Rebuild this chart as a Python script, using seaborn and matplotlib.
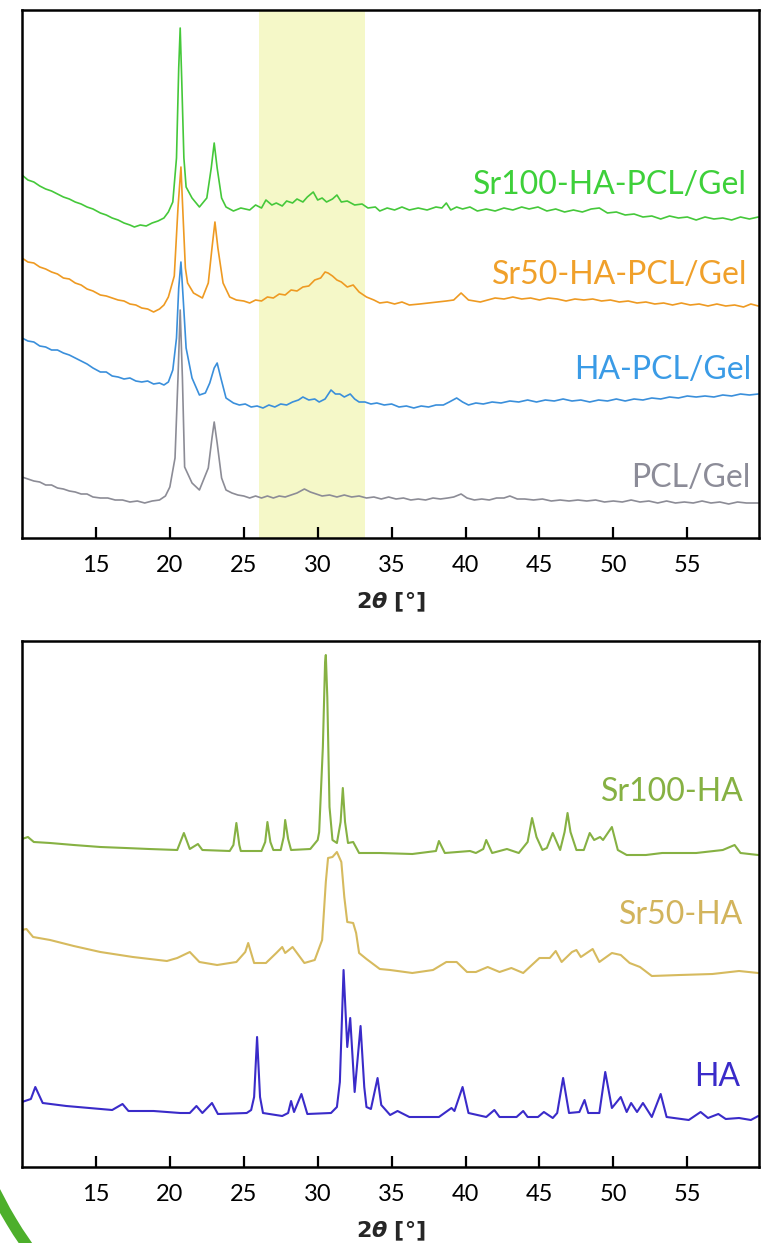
import numpy as np
import pandas as pd
import matplotlib
matplotlib.use("Agg")
import matplotlib.pyplot as plt
import seaborn as sns
from matplotlib.patches import Arc

# ---------------- data (2theta in degrees, intensity in a.u., offset traces) ----------------
top_names = ["Sr100-HA-PCL/Gel", "Sr50-HA-PCL/Gel", "HA-PCL/Gel", "PCL/Gel"]
top_colors = ["#45C83A", "#EE9A22", "#3A8FDB", "#8C8C96"]
top_label_colors = ["#3ED03A", "#F0A02A", "#3A9BE6", "#8C8C98"]

sr100_pcl_x = [10.0, 10.4, 10.8, 11.2, 11.6, 12.0, 12.4, 12.8, 13.2, 13.6, 14.0, 14.4, 14.8, 15.3, 15.7,
               16.1, 16.5, 16.9, 17.3, 17.6, 18.0, 18.4, 18.8, 19.2, 19.6, 19.9, 20.2,
               20.45, 20.6, 20.7, 20.8, 20.95, 21.1, 21.5, 22.0, 22.5, 22.8, 23.0, 23.2, 23.5,
               23.8, 24.3, 24.8, 25.4, 25.8, 26.2, 26.5, 26.9, 27.2, 27.6, 27.9, 28.3, 28.6, 29.0,
               29.3, 29.7, 30.0, 30.3, 30.6, 31.0, 31.3, 31.6, 32.0, 32.5, 33.0, 33.4, 33.9, 34.2,
               34.7, 35.2, 35.7, 36.2, 36.8, 37.4, 38.0, 38.4, 38.7, 39.0, 39.4, 39.8, 40.3, 40.8,
               41.4, 42.0, 42.6, 43.2, 43.8, 44.3, 44.9, 45.5, 46.1, 46.7, 47.3, 47.9, 48.5, 49.05,
               49.6, 50.2, 50.8, 51.4, 52.0, 52.6, 53.2, 53.8, 54.4, 55.0, 55.6, 56.2, 56.8, 57.4,
               58.0, 58.6, 59.2, 59.8]
sr100_pcl_y = [363, 358, 356, 352, 349, 347, 344, 341, 339, 336, 334, 331, 329, 325, 323,
               320, 318, 315, 313, 311, 313, 312, 315, 317, 320, 326, 336,
               380, 470, 510, 460, 380, 351, 340, 331, 340, 370, 395, 370, 340,
               331, 327, 330, 328, 333, 330, 338, 333, 335, 332, 337, 335, 339, 336,
               341, 346, 338, 340, 336, 339, 343, 336, 337, 333, 334, 330, 331, 327,
               330, 328, 331, 328, 330, 328, 331, 330, 335, 328, 331, 329, 331, 327,
               329, 327, 330, 328, 331, 329, 331, 327, 329, 326, 328, 326, 329, 330,
               325, 326, 323, 324, 321, 322, 319, 322, 320, 321, 318, 321, 319, 320,
               318, 321, 319, 321]

sr50_pcl_x = [10.0, 10.4, 10.8, 11.2, 11.6, 12.0, 12.4, 12.8, 13.2, 13.6, 14.0, 14.4, 14.8, 15.3, 15.7,
              16.1, 16.5, 16.9, 17.3, 17.7, 18.1, 18.5, 18.9, 19.3, 19.6, 19.9, 20.3, 20.55,
              20.75, 20.9, 21.05, 21.2, 21.6, 22.2, 22.6, 22.85, 23.05, 23.25, 23.6, 24.05, 24.5,
              25.0, 25.4, 25.8, 26.2, 26.6, 27.0, 27.4, 27.8, 28.2, 28.6, 29.0, 29.4, 29.8, 30.2,
              30.5, 30.7, 31.0, 31.3, 31.6, 32.0, 32.4, 32.8, 33.3, 33.8, 34.2, 34.7, 35.2, 35.7,
              36.2, 36.9, 37.5, 38.1, 38.7, 39.2, 39.7, 40.2, 40.6, 41.0, 41.5, 42.0, 42.6, 43.2,
              43.8, 44.4, 45.0, 45.6, 46.2, 46.8, 47.4, 48.0, 48.6, 49.2, 49.8, 50.4, 51.0, 51.6,
              52.2, 52.8, 53.4, 54.0, 54.6, 55.2, 55.8, 56.4, 57.0, 57.6, 58.2, 58.8, 59.3, 59.8]
sr50_pcl_y = [280, 276, 275, 271, 269, 266, 264, 260, 259, 255, 253, 249, 247, 243, 242,
              240, 238, 237, 234, 233, 230, 229, 226, 229, 233, 241, 262, 330,
              371, 320, 270, 255, 245, 240, 255, 290, 316, 290, 255, 241, 238,
              237, 235, 238, 237, 241, 240, 244, 243, 248, 247, 251, 252, 258, 260,
              266, 265, 262, 258, 256, 251, 253, 246, 241, 238, 235, 236, 234, 236,
              233, 234, 235, 236, 237, 238, 245, 238, 237, 236, 238, 240, 239, 241,
              239, 240, 238, 240, 239, 237, 239, 238, 239, 237, 238, 236, 237, 235,
              236, 234, 235, 233, 235, 233, 234, 232, 234, 232, 233, 231, 234, 232]

ha_pcl_x = [10.0, 10.4, 10.8, 11.2, 11.6, 12.0, 12.4, 12.8, 13.2, 13.6, 14.0, 14.4, 14.8, 15.3, 15.7,
            16.1, 16.5, 16.9, 17.3, 17.7, 18.1, 18.5, 18.9, 19.3, 19.6, 19.9, 20.2, 20.45, 20.6,
            20.75, 20.9, 21.1, 21.5, 22.0, 22.4, 22.7, 23.0, 23.2, 23.45, 23.8, 24.3, 24.7, 25.1,
            25.5, 25.9, 26.3, 26.7, 27.1, 27.5, 27.9, 28.3, 28.7, 29.0, 29.4, 29.8, 30.1, 30.5,
            30.9, 31.2, 31.5, 31.8, 32.2, 32.5, 32.8, 33.2, 33.6, 34.0, 34.5, 35.0, 35.5, 36.0,
            36.5, 37.0, 37.5, 38.0, 38.5, 38.9, 39.4, 39.8, 40.2, 40.7, 41.2, 41.8, 42.4, 43.0,
            43.6, 44.2, 44.8, 45.4, 46.0, 46.6, 47.2, 47.8, 48.4, 49.0, 49.6, 50.2, 50.8, 51.4,
            52.0, 52.6, 53.2, 53.8, 54.4, 55.0, 55.6, 56.2, 56.8, 57.4, 58.0, 58.6, 59.2, 59.8]
ha_pcl_y = [200, 197, 196, 192, 191, 188, 188, 185, 183, 180, 177, 174, 170, 166, 166,
            162, 161, 159, 160, 157, 156, 157, 154, 155, 153, 156, 168, 200, 250,
            276, 240, 190, 160, 143, 145, 155, 170, 175, 160, 140, 135, 133, 134,
            131, 132, 130, 133, 131, 134, 133, 136, 138, 141, 138, 139, 136, 139,
            148, 144, 144, 141, 144, 139, 136, 136, 134, 135, 133, 134, 131, 132,
            130, 132, 131, 133, 133, 136, 140, 136, 133, 135, 134, 136, 135, 137,
            136, 138, 136, 138, 137, 139, 137, 138, 136, 138, 137, 139, 137, 139,
            138, 140, 139, 141, 140, 142, 141, 142, 141, 143, 142, 144, 143, 144]

pcl_x = [10.0, 10.4, 10.8, 11.2, 11.6, 12.0, 12.4, 12.8, 13.2, 13.6, 14.0, 14.4, 14.8, 15.3, 15.8,
         16.3, 16.8, 17.3, 17.8, 18.3, 18.8, 19.3, 19.7, 20.0, 20.35, 20.55, 20.7, 20.85,
         21.0, 21.5, 22.0, 22.6, 22.85, 23.0, 23.2, 23.5, 23.8, 24.2, 24.6, 25.0, 25.4, 25.8,
         26.2, 26.6, 27.0, 27.4, 27.8, 28.2, 28.6, 29.1, 29.5, 29.9, 30.3, 30.8, 31.3, 31.8,
         32.3, 32.8, 33.3, 33.8, 34.3, 34.8, 35.3, 35.8, 36.3, 36.8, 37.3, 37.8, 38.3, 38.8,
         39.2, 39.7, 40.1, 40.6, 41.1, 41.6, 42.1, 42.6, 43.0, 43.5, 44.0, 44.6, 45.2, 45.8,
         46.4, 47.0, 47.6, 48.2, 48.8, 49.4, 50.0, 50.6, 51.2, 51.8, 52.4, 53.0, 53.6, 54.2,
         54.8, 55.4, 56.0, 56.6, 57.2, 57.8, 58.4, 59.0, 59.8]
pcl_y = [61, 59, 57, 56, 53, 53, 50, 49, 47, 46, 44, 44, 41, 40, 40,
         38, 38, 36, 37, 35, 37, 38, 42, 51, 80, 160, 228, 160,
         71, 55, 48, 70, 100, 116, 95, 60, 48, 45, 43, 42, 40, 42,
         40, 42, 40, 42, 41, 43, 45, 49, 46, 44, 42, 43, 41, 43,
         41, 42, 40, 41, 39, 41, 39, 40, 38, 39, 38, 40, 39, 40,
         41, 44, 40, 38, 39, 38, 40, 40, 42, 39, 39, 38, 39, 37,
         38, 37, 38, 37, 38, 36, 37, 36, 38, 36, 37, 35, 37, 35,
         36, 35, 37, 35, 36, 34, 36, 35, 35]

bot_names = ["Sr100-HA", "Sr50-HA", "HA"]
bot_colors = ["#86B143", "#D6BA5E", "#3A2BC9"]
bot_label_colors = ["#86B143", "#D2B45C", "#3A2BC9"]

sr100_ha_x = [10.0, 10.4, 10.8, 11.9, 13.5, 15.3, 17.0, 18.6, 20.5, 20.95, 21.35, 21.9, 22.2, 24.05, 24.3,
              24.5, 24.7, 24.8, 26.2, 26.45, 26.6, 26.8, 27.0, 27.5, 27.7, 27.8, 28.0, 28.2, 29.5, 30.0,
              30.1, 30.35, 30.5, 30.55, 30.65, 30.8, 31.0, 31.3, 31.55, 31.7, 31.85, 32.05, 32.4,
              32.8, 34.2, 36.4, 38.0, 38.2, 38.6, 40.3, 40.7, 41.2, 41.4, 41.8, 42.8, 43.6, 44.2, 44.5,
              44.8, 45.2, 45.5, 45.9, 46.4, 46.7, 46.9, 47.1, 47.5, 48.0, 48.4, 48.7, 49.1, 49.3,
              49.9, 50.3, 50.9, 52.2, 53.3, 55.6, 57.4, 58.2, 58.6, 59.8]
sr100_ha_y = [328, 330, 325, 324, 322, 320, 319, 318, 317, 334, 318, 323, 317, 316, 322,
              344, 322, 316, 316, 325, 345, 325, 317, 317, 330, 347, 328, 317, 318, 327,
              335, 420, 505, 512, 470, 360, 327, 324, 345, 379, 345, 324, 325,
              314, 314, 313, 316, 326, 314, 316, 314, 318, 327, 314, 318, 314, 325, 349,
              330, 317, 319, 334, 317, 335, 354, 335, 317, 317, 334, 327, 330, 327,
              340, 317, 312, 312, 314, 314, 317, 322, 314, 312]

sr50_ha_x = [10.0, 10.3, 10.75, 11.9, 13.5, 15.3, 17.5, 19.8, 20.5, 21.35, 22.0, 23.2, 24.5, 25.1, 25.3,
             25.7, 26.5, 27.2, 27.6, 27.8, 28.3, 29.1, 29.8, 30.3, 30.55, 30.7, 31.0, 31.3, 31.6, 31.8,
             32.0, 32.4, 32.6, 32.8, 33.3, 34.2, 34.9, 36.4, 37.8, 38.7, 39.4, 40.1, 40.7, 41.5, 42.3,
             43.1, 43.9, 45.0, 45.7, 46.1, 46.5, 47.2, 47.5, 47.8, 48.6, 49.05, 49.9, 50.5, 51.1,
             51.8, 52.6, 54.5, 56.7, 58.5, 59.8]
sr50_ha_y = [237, 238, 230, 227, 221, 215, 210, 206, 209, 215, 205, 202, 205, 215, 224,
             204, 204, 214, 220, 214, 220, 204, 207, 227, 285, 309, 310, 315, 305, 270,
             245, 244, 234, 214, 208, 198, 197, 194, 197, 205, 205, 195, 195, 200, 195,
             199, 194, 209, 209, 216, 205, 215, 217, 210, 218, 205, 214, 212, 204,
             200, 191, 192, 193, 196, 194]

ha_x = [10.0, 10.6, 10.9, 11.4, 13.0, 16.1, 16.8, 17.2, 18.9, 20.7, 21.35, 21.8, 22.2, 22.85, 23.25,
        25.2, 25.5, 25.7, 25.9, 26.1, 26.3, 27.6, 28.0, 28.2, 28.4, 28.9, 29.3, 30.9, 31.3, 31.5,
        31.75, 32.0, 32.2, 32.5, 32.9, 33.15, 33.3, 33.6, 34.05, 34.3, 34.9, 35.4, 36.2, 38.2,
        39.05, 39.25, 39.8, 40.2, 41.4, 41.95, 42.3, 43.45, 43.9, 44.2, 44.9, 45.3, 45.9, 46.2,
        46.6, 47.0, 47.7, 48.05, 48.3, 49.05, 49.45, 49.9, 50.5, 50.9, 51.2, 51.6, 52.0, 52.6,
        53.2, 53.6, 55.1, 55.9, 56.4, 57.1, 57.6, 58.5, 59.3, 59.8]
ha_y = [65, 68, 80, 64, 61, 57, 63, 56, 56, 54, 54, 61, 54, 64, 53,
        54, 57, 70, 130, 70, 54, 51, 54, 66, 55, 73, 53, 54, 60, 85,
        197, 120, 149, 75, 141, 80, 60, 58, 89, 62, 52, 56, 50, 50,
        59, 56, 80, 54, 50, 57, 50, 50, 56, 50, 50, 55, 49, 54,
        89, 54, 55, 67, 54, 54, 95, 59, 70, 55, 64, 55, 64, 50,
        73, 50, 47, 55, 49, 53, 48, 49, 47, 51]

band_range = [26.0, 33.2]
x_ticks = [15, 20, 25, 30, 35, 40, 45, 50, 55]
x_limits = [10.0, 59.85]
top_ylim = [0, 528]
bot_ylim = [0, 526]
x_label = r"$\mathbf{2}\mathbfit{\theta}\ \mathbf{[°]}$"

# ---------------- figure ----------------
sns.set_theme(style="white")
plt.rcParams["font.family"] = ["Lato", "DejaVu Sans"]

W, H = 761, 1243
fig = plt.figure(figsize=(W / 100, H / 100), dpi=100)
ax_top = fig.add_axes([22 / W, 1 - 538 / H, (759 - 22) / W, (538 - 10) / H])
ax_bot = fig.add_axes([22 / W, 1 - 1167 / H, (759 - 22) / W, (1167 - 641) / H])

top_series = [(sr100_pcl_x, sr100_pcl_y), (sr50_pcl_x, sr50_pcl_y), (ha_pcl_x, ha_pcl_y), (pcl_x, pcl_y)]
bot_series = [(sr100_ha_x, sr100_ha_y), (sr50_ha_x, sr50_ha_y), (ha_x, ha_y)]

ax_top.axvspan(band_range[0], band_range[1], color="#F5F8C8", zorder=0, lw=0)

for (xs, ys), name, col in zip(top_series, top_names, top_colors):
    df = pd.DataFrame({"two_theta": xs, "intensity": ys})
    sns.lineplot(data=df, x="two_theta", y="intensity", ax=ax_top, color=col, lw=1.2)

for (xs, ys), name, col in zip(bot_series, bot_names, bot_colors):
    df = pd.DataFrame({"two_theta": xs, "intensity": ys})
    sns.lineplot(data=df, x="two_theta", y="intensity", ax=ax_bot, color=col, lw=1.5)

# series labels (positions in axes fraction)
top_label_pos = [(1 - 12 / 737, (538 - 185) / 528), (1 - 12 / 737, (538 - 275) / 528),
                 (1 - 8 / 737, (538 - 370) / 528), (1 - 8 / 737, (538 - 478) / 528)]
for name, c, (px, py) in zip(top_names, top_label_colors, top_label_pos):
    ax_top.text(px, py, name, transform=ax_top.transAxes, ha="right", va="center",
                color=c, fontsize=23)

bot_label_pos = [(1 - 15 / 737, (1167 - 792) / 526), (1 - 16 / 737, (1167 - 915) / 526),
                 (1 - 19 / 737, (1167 - 1077) / 526)]
for name, c, (px, py) in zip(bot_names, bot_label_colors, bot_label_pos):
    ax_bot.text(px, py, name, transform=ax_bot.transAxes, ha="right", va="center",
                color=c, fontsize=23)

for ax, yl in [(ax_top, top_ylim), (ax_bot, bot_ylim)]:
    ax.set_xlim(*x_limits)
    ax.set_ylim(*yl)
    ax.set_xticks(x_ticks)
    ax.set_xticklabels([str(t) for t in x_ticks])
    ax.set_yticks([])
    ax.set_ylabel("")
    ax.set_xlabel(x_label, fontsize=16, labelpad=11)
    ax.tick_params(axis="x", direction="in", length=8, width=1.6, color="black",
                   labelsize=17, pad=12, bottom=True, top=False, labelcolor="black")
    for s in ax.spines.values():
        s.set_color("black")
        s.set_linewidth(1.8)
    ax.set_facecolor("white")

# decorative green arc at the lower-left page corner
fig.add_artist(Arc((3.80, 2.43), 8.6, 8.6, theta1=198, theta2=224,
                   transform=fig.dpi_scale_trans, color="#4DAF2B", lw=8))

fig.savefig("out.png", dpi=100)
